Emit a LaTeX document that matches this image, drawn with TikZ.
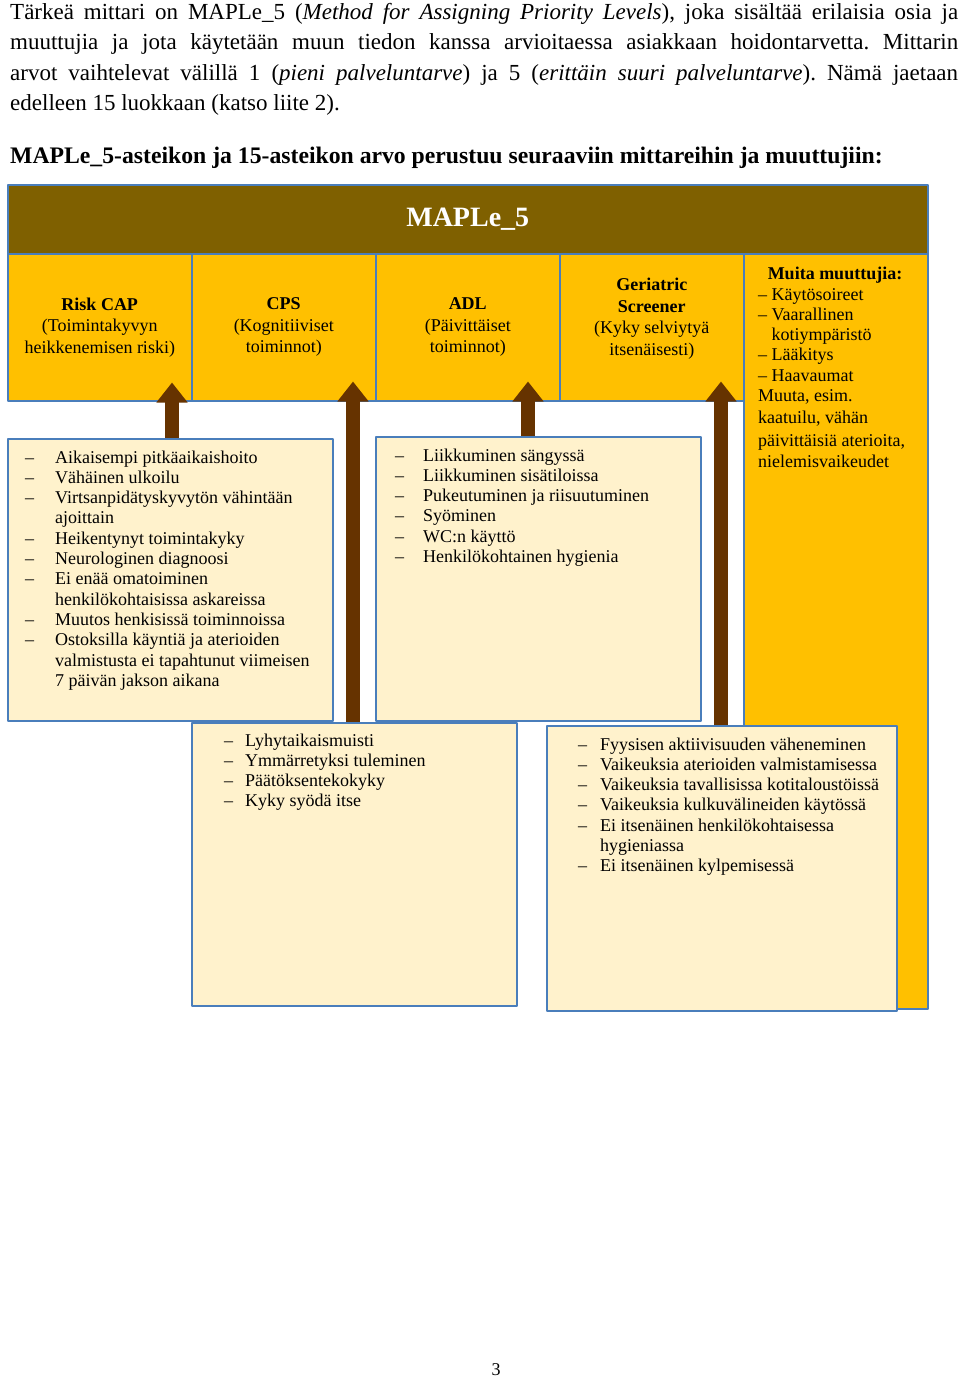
\documentclass[tikz,border=0pt]{standalone}
\usepackage{fontspec}
\setmainfont{Liberation Serif}
\usetikzlibrary{arrows.meta}
\definecolor{mapleband}{HTML}{7F6000}
\definecolor{mapleyellow}{HTML}{FFC000}
\definecolor{maplecream}{HTML}{FFF2CC}
\definecolor{mapleedge}{HTML}{4A7EBB}
\definecolor{maplearrow}{HTML}{663300}
\newcommand{\dashlist}[2]{\begin{tabular}[t]{@{}p{#1}@{}l@{}}#2\end{tabular}}
\frenchspacing

\begin{document}
\begin{tikzpicture}[x=1pt, y=-1pt, line join=round]

		\tikzset{band/.style={draw=mapleedge, line width=1.5pt, fill=mapleband, anchor=north west, text=white, font=\fontsize{28}{32}\selectfont\bfseries},
			topbox/.style={draw=mapleedge, line width=1.5pt, fill=mapleyellow, minimum width=184pt, minimum height=147pt, anchor=north west, align=center, inner sep=0pt, font=\fontsize{18}{21.5}\selectfont},
			listbox/.style={draw=mapleedge, line width=1.5pt, fill=maplecream, anchor=north west, inner sep=0pt},
			listtext/.style={anchor=base west, inner sep=0pt, font=\fontsize{18}{20.3}\selectfont},
			uparrow/.style={draw=maplearrow, line width=14pt, -{Triangle[length=20pt,width=30pt]}}}

		\useasboundingbox (0,0) rectangle (960,1377);

		% text above the chart
		\node[anchor=base west, inner sep=0pt, text width=948pt, align=justify, font=\fontsize{23}{30.3}\selectfont] (intro) at (10,19.5)
			{Tärkeä mittari on MAPLe\_5 (\emph{Method for Assigning Priority Levels}), joka sisältää erilaisia osia ja\linebreak
			muuttujia ja jota käytetään muun tiedon kanssa arvioitaessa asiakkaan hoidontarvetta. Mittarin\linebreak
			arvot vaihtelevat välillä 1 (\emph{pieni palveluntarve}) ja 5 (\emph{erittäin suuri palveluntarve}). Nämä jaetaan\linebreak
			edelleen 15 luokkaan (katso liite 2).};
		\node[anchor=base west, inner sep=0pt, font=\fontsize{23.7}{27}\selectfont\bfseries] (heading) at (10,163.5)
			{MAPLe\_5-asteikon ja 15-asteikon arvo perustuu seuraaviin mittareihin ja muuttujiin:};

		% band and the five measures
		\node[band, minimum width=920pt, minimum height=69pt] (maple) at (7,184) {MAPLe\_5};
		\node[topbox] (riskcap) at (7,253) {\textbf{Risk CAP}\\(Toimintakyvyn\\heikkenemisen riski)};
		\node[topbox] (cps) at (191,253) {\textbf{CPS}\\(Kognitiiviset\\toiminnot)};
		\node[topbox] (adl) at (375,253) {\textbf{ADL}\\(Päivittäiset\\toiminnot)};
		\node[topbox] (gerscr) at (559,253) {\textbf{Geriatric}\\\textbf{Screener}\\(Kyky selviytyä\\itsenäisesti)\\~};
		\node[topbox, minimum height=755pt] (muita) at (743,253) {};
		\node[anchor=base, inner sep=0pt, font=\fontsize{18}{21.5}\selectfont\bfseries] (muitatitle) at (835,279) {Muita muuttujia:};
		\node[listtext] (muitalist) at (758,300)
			{\begin{tabular}[t]{@{}l@{}}
			– Käytösoireet\\ – Vaarallinen\\ \phantom{– }kotiympäristö\\ – Lääkitys\\ – Haavaumat\\
			Muuta, esim.\\[1.5pt] kaatuilu, vähän\\[2.5pt] päivittäisiä aterioita,\\[1.5pt] nielemisvaikeudet
			\end{tabular}};

		% item boxes
		\node[listbox, minimum width=325pt, minimum height=282pt] (riskitems) at (7,438) {};
		\node[listtext] (risklist) at (25,463)
			{\dashlist{30pt}{– & Aikaisempi pitkäaikaishoito\\ – & Vähäinen ulkoilu\\
			– & Virtsanpidätyskyvytön vähintään\\ & ajoittain\\ – & Heikentynyt toimintakyky\\
			– & Neurologinen diagnoosi\\ – & Ei enää omatoiminen\\ & henkilökohtaisissa askareissa\\
			– & Muutos henkisissä toiminnoissa\\ – & Ostoksilla käyntiä ja aterioiden\\
			& valmistusta ei tapahtunut viimeisen\\ & 7 päivän jakson aikana}};

		\node[listbox, minimum width=325pt, minimum height=284pt] (adlitems) at (375,436) {};
		\node[listtext] (adllist) at (395,461)
			{\dashlist{28pt}{– & Liikkuminen sängyssä\\ – & Liikkuminen sisätiloissa\\
			– & Pukeutuminen ja riisuutuminen\\ – & Syöminen\\ – & WC:n käyttö\\
			– & Henkilökohtainen hygienia}};

		\node[listbox, minimum width=325pt, minimum height=283pt] (cpsitems) at (191,722) {};
		\node[listtext] (cpslist) at (224,746)
			{\dashlist{21pt}{– & Lyhytaikaismuisti\\ – & Ymmärretyksi tuleminen\\
			– & Päätöksentekokyky\\ – & Kyky syödä itse}};

		\node[listbox, minimum width=350pt, minimum height=285pt] (geritems) at (546,725) {};
		\node[listtext] (gerlist) at (578,750)
			{\dashlist{22pt}{– & Fyysisen aktiivisuuden väheneminen\\ – & Vaikeuksia aterioiden valmistamisessa\\
			– & Vaikeuksia tavallisissa kotitaloustöissä\\ – & Vaikeuksia kulkuvälineiden käytössä\\
			– & Ei itsenäinen henkilökohtaisessa\\ & hygieniassa\\ – & Ei itsenäinen kylpemisessä}};

		% arrows up to the measures
		\draw[uparrow] ([xshift=165pt]riskitems.north west) -- ([xshift=165pt, yshift=19pt]riskcap.south west);
		\draw[uparrow] ([xshift=162pt]cpsitems.north west) -- ([xshift=162pt, yshift=20pt]cps.south west);
		\draw[uparrow] ([xshift=153pt]adlitems.north west) -- ([xshift=153pt, yshift=20pt]adl.south west);
		\draw[uparrow] ([xshift=175pt]geritems.north west) -- ([xshift=162pt, yshift=20pt]gerscr.south west);

		\node[anchor=base, inner sep=0pt, font=\fontsize{18}{20}\selectfont] (pagenum) at (496,1375) {3};
\end{tikzpicture}
\end{document}
